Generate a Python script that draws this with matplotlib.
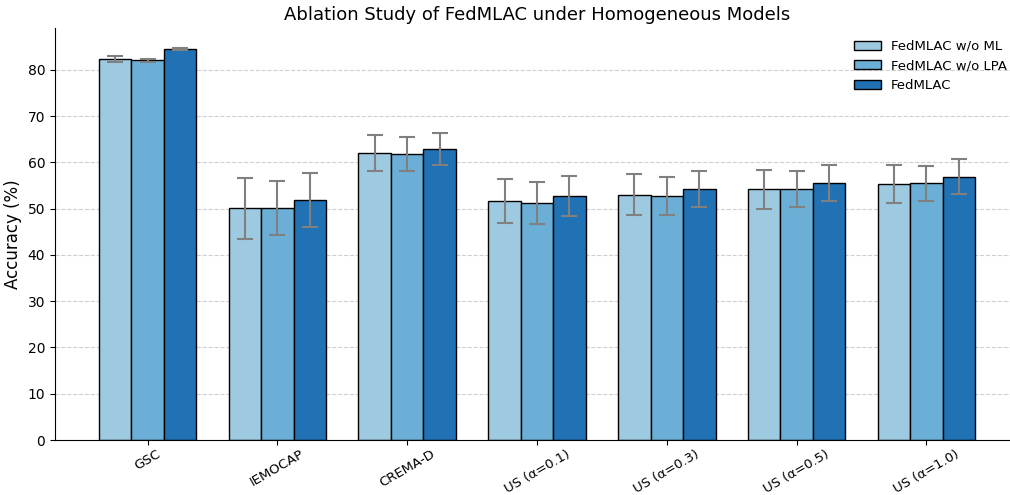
import numpy as np
import matplotlib.pyplot as plt

categories = ["GSC", "IEMOCAP", "CREMA-D", "US (α=0.1)", "US (α=0.3)", "US (α=0.5)", "US (α=1.0)"]
series = ["FedMLAC w/o ML", "FedMLAC w/o LPA", "FedMLAC"]

acc_no_ml = [82.3, 50.1, 62.0, 51.6, 53.0, 54.2, 55.3]
acc_no_lpa = [82.1, 50.1, 61.8, 51.2, 52.8, 54.2, 55.5]
acc_full = [84.5, 51.9, 62.9, 52.8, 54.2, 55.6, 56.9]

err_no_ml = [0.6, 6.6, 3.9, 4.7, 4.4, 4.2, 4.1]
err_no_lpa = [0.3, 5.9, 3.7, 4.6, 4.1, 3.9, 3.8]
err_full = [0.3, 5.8, 3.4, 4.3, 3.9, 3.9, 3.8]

colors = ["#9ecae1", "#6baed6", "#2171b5"]

x = np.arange(len(categories))
width = 0.25

fig, ax = plt.subplots(figsize=(10.1, 4.95), dpi=100)

for i, (vals, errs) in enumerate([(acc_no_ml, err_no_ml), (acc_no_lpa, err_no_lpa), (acc_full, err_full)]):
    ax.bar(x + (i - 1) * width, vals, width, yerr=errs, label=series[i], color=colors[i],
           edgecolor="black", linewidth=1, capsize=6,
           error_kw=dict(ecolor="gray", elinewidth=1.5, capthick=1.5))

ax.set_xticks(x)
ax.set_xticklabels(categories, rotation=30, fontsize=9.5)
ax.tick_params(axis="x", pad=2)
ax.set_ylabel("Accuracy (%)", fontsize=12)
ax.set_title("Ablation Study of FedMLAC under Homogeneous Models", fontsize=13)
ax.yaxis.grid(True, linestyle="--", alpha=0.6)
ax.set_axisbelow(True)
ax.spines["top"].set_visible(False)
ax.spines["right"].set_visible(False)
ax.legend(frameon=False, loc="upper right", fontsize=9.5)

# axes box as in the reference (right edge runs slightly past the image)
ax.set_position([55 / 1010, 55 / 495, 964 / 1010, 412 / 495])

plt.savefig("out.png")
